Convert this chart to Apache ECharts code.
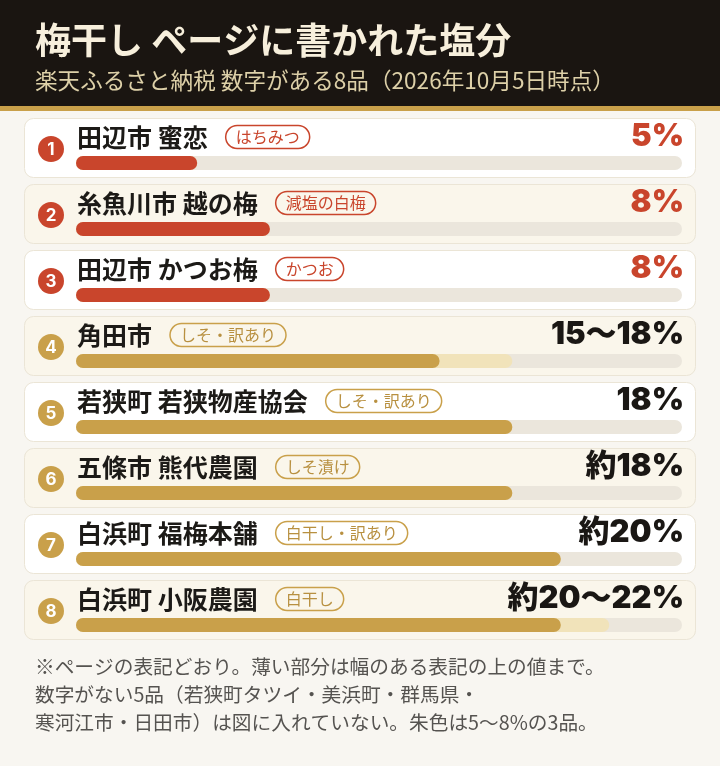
<!DOCTYPE html>
<html><head><meta charset="utf-8">
<script src="https://cdn.jsdelivr.net/npm/echarts@6/dist/echarts.min.js"></script>
<style>html,body{margin:0;padding:0;background:#f8f6f1}#c{width:720px;height:766px}</style>
</head><body><div id="c"></div>
<script>
const names = ['田辺市 蜜恋', '糸魚川市 越の梅', '田辺市 かつお梅', '角田市', '若狭町 若狭物産協会', '五條市 熊代農園', '白浜町 福梅本舗', '白浜町 小阪農園'];
const tags = ['はちみつ', '減塩の白梅', 'かつお', 'しそ・訳あり', 'しそ・訳あり', 'しそ漬け', '白干し・訳あり', '白干し'];
const lowVals = [5, 8, 8, 15, 18, 18, 20, 20];
const highVals = [5, 8, 8, 18, 18, 18, 20, 22];
const valueLabels = ['5%', '8%', '8%', '15〜18%', '18%', '約18%', '約20%', '約20〜22%'];
const titleText = '梅干し ページに書かれた塩分';
const subtitleText = '楽天ふるさと納税 数字がある8品（2026年10月5日時点）';
const footLines = ['※ページの表記どおり。薄い部分は幅のある表記の上の値まで。', '数字がない5品（若狭町タツイ・美浜町・群馬県・', '寒河江市・日田市）は図に入れていない。朱色は5〜8%の3品。'];
const AXIS_MAX = 25;

const RED = '#c9452c', GOLD = '#c9a04a', LIGHT = '#f1e3ba', TRACK = '#ebe6dc';
const CJK = '"Noto Sans CJK JP", "Noto Sans", sans-serif';
const NUM = 'Inter, "Noto Sans CJK JP", sans-serif';

const mctx = document.createElement('canvas').getContext('2d');
function measure(t, f) { mctx.font = f; return mctx.measureText(t).width; }

const chart = echarts.init(document.getElementById('c'), null, {renderer: 'canvas'});
const idx = names.map((_, i) => i);

chart.setOption({
  backgroundColor: '#f8f6f1',
  animation: false,
  grid: {left: 76, right: 38, top: 130, height: 528},
  xAxis: {type: 'value', min: 0, max: AXIS_MAX, show: false},
  yAxis: {type: 'category', data: idx, inverse: true, show: false},
  graphic: [
    {type: 'rect', shape: {x: 0, y: 0, width: 720, height: 106}, style: {fill: '#1a1511'}},
    {type: 'rect', shape: {x: 0, y: 106, width: 720, height: 5}, style: {fill: GOLD}},
    {type: 'text', x: 35, y: 40, style: {text: titleText, font: 'bold 36px ' + CJK, fill: '#f7efdc', verticalAlign: 'middle'}},
    {type: 'text', x: 35, y: 80, style: {text: subtitleText, font: '22.6px ' + CJK, fill: '#ddd0a8', verticalAlign: 'middle'}},
    ...footLines.map((t, k) => ({type: 'text', x: 35, y: 667 + k * 28, style: {text: t, font: '19.7px ' + CJK, fill: '#555350', verticalAlign: 'middle'}}))
  ],
  series: [
    {
      type: 'custom', z: 1, clip: false,
      data: idx.map(i => [highVals[i], i]),
      encode: {x: 0, y: 1},
      renderItem: function (params, api) {
        const i = params.dataIndex;
        const p0 = api.coord([0, i]);
        const p1 = api.coord([AXIS_MAX, i]);
        const yc = p0[1];
        const isRed = i < 3;
        const accent = isRed ? RED : GOLD;
        const nameFont = 'bold 25px ' + CJK;
        const nameW = measure(names[i], nameFont);
        return {type: 'group', children: [
          {type: 'rect', shape: {x: p0[0] - 51.5, y: yc - 44.5, width: p1[0] - p0[0] + 65, height: 59, r: 9},
           style: {fill: i % 2 ? '#faf6eb' : '#ffffff', stroke: '#ebe5d6', lineWidth: 1}},
          {type: 'circle', shape: {cx: p0[0] - 25, cy: yc - 14, r: 13}, style: {fill: accent}},
          {type: 'text', style: {x: p0[0] - 25, y: yc - 13, text: String(i + 1), fill: '#fff', font: 'bold 17px ' + NUM, align: 'center', verticalAlign: 'middle'}},
          {type: 'text', style: {x: p0[0] + 1, y: yc - 26, text: names[i], font: nameFont, fill: '#1c1a17', verticalAlign: 'middle'}},
          {type: 'text', style: {x: p0[0] + 2 + nameW + 17, y: yc - 26, text: tags[i], font: '16px ' + CJK,
            fill: isRed ? RED : '#b89040', verticalAlign: 'middle', padding: [4, 10, 3, 10], borderColor: accent, borderWidth: 1.5, borderRadius: 12}},
          {type: 'text', style: {x: p1[0] + 2, y: yc - 26, text: valueLabels[i], font: '900 31px ' + NUM, fill: isRed ? RED : '#1a1714', align: 'right', verticalAlign: 'middle'}}
        ]};
      }
    },
    {
      type: 'bar', z: 2, barWidth: 14,
      data: highVals.map(v => v),
      itemStyle: {color: LIGHT, borderRadius: 7},
      showBackground: true,
      backgroundStyle: {color: TRACK, borderRadius: 7}
    },
    {
      type: 'bar', z: 3, barWidth: 14, barGap: '-100%',
      data: lowVals.map((v, i) => ({value: v, itemStyle: {color: i < 3 ? RED : GOLD}})),
      itemStyle: {borderRadius: 7}
    }
  ]
});
</script></body></html>
